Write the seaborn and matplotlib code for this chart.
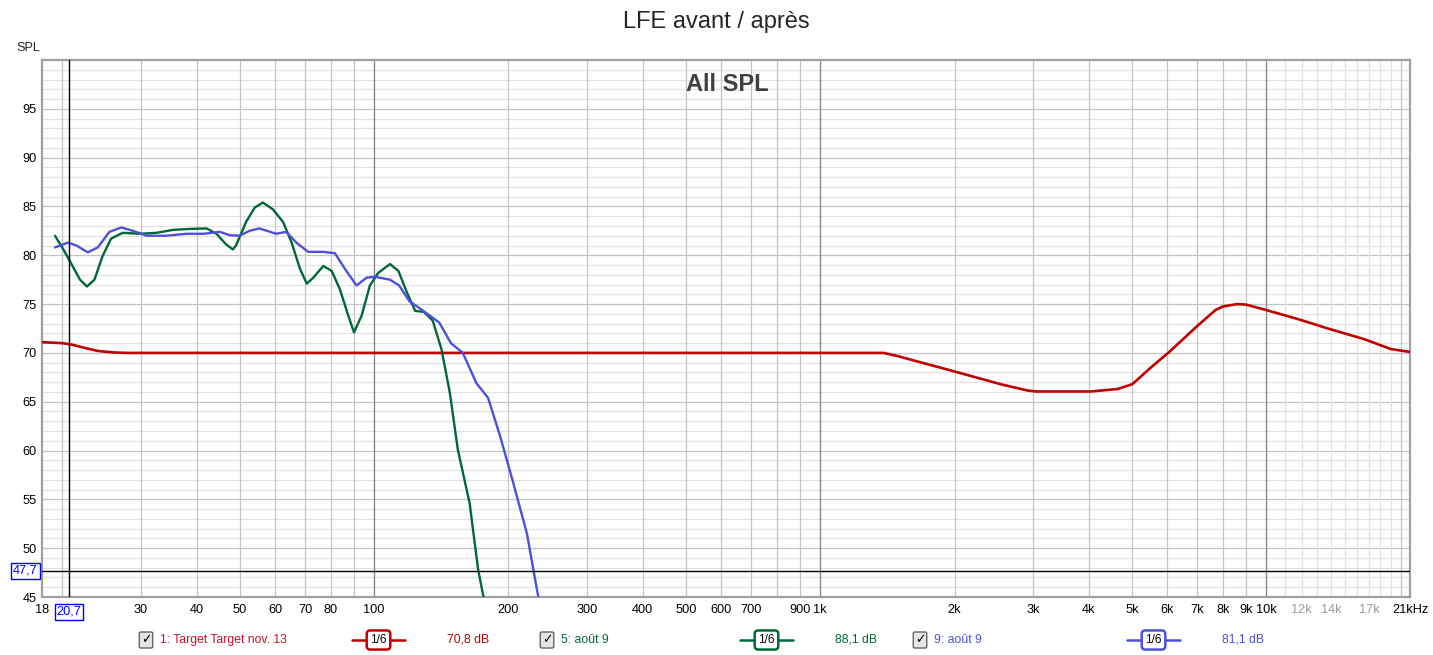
import matplotlib
matplotlib.use("Agg")
import matplotlib.pyplot as plt
import seaborn as sns
from matplotlib.lines import Line2D

# ---------------------------
# data (Hz, dB SPL)
# ---------------------------
target_freq = [18, 20, 21, 22.5, 24, 26, 28, 100, 1000, 1167, 1386, 1484, 2000, 2535, 2915, 3040,
               4040, 4640, 5010, 5510, 6060, 7000, 7700, 7990, 8590, 9000, 9980, 11800, 13980,
               16600, 19000, 21000]
target_spl = [71.1, 71.0, 70.85, 70.5, 70.2, 70.05, 70.0, 70.0, 70.0, 70.0, 70.0, 69.7, 68.1, 66.8,
              66.15, 66.05, 66.05, 66.3, 66.8, 68.5, 70.1, 72.75, 74.4, 74.75, 75.0, 74.95, 74.4,
              73.45, 72.4, 71.4, 70.4, 70.1]

aout_green_freq = [19.25, 20.1, 20.96, 21.9, 22.7, 23.6, 24.6, 25.7, 27.3, 29.8, 32.5, 35.4, 38.6,
                   42.1, 44.3, 46.6, 48.2, 49.0, 51.6, 54.0, 56.3, 59.3, 62.5, 65.3, 68.2, 70.6,
                   73.0, 76.9, 80.3, 83.8, 87.5, 90.1, 93.7, 97.8, 102.1, 108.5, 113.3, 118.4,
                   123.6, 129.3, 135.3, 141.5, 147.8, 154, 163.7, 171, 176, 178]
aout_green_spl = [82.0, 80.6, 79.1, 77.5, 76.8, 77.5, 79.9, 81.7, 82.3, 82.2, 82.3, 82.6, 82.7,
                  82.75, 82.2, 81.1, 80.6, 81.0, 83.4, 84.9, 85.4, 84.7, 83.4, 81.3, 78.6, 77.1,
                  77.7, 78.9, 78.4, 76.5, 73.8, 72.1, 73.8, 76.9, 78.2, 79.1, 78.4, 76.2,
                  74.3, 74.2, 73.3, 70.4, 65.9, 60.1, 54.6, 47.8, 44.9, 43.5]

aout_blue_freq = [19.25, 20.6, 21.5, 22.8, 24.0, 25.5, 27.1, 28.8, 30.9, 34.2, 37.9, 41.4, 45.1,
                  47.4, 49.9, 52.5, 55.3, 60.3, 63.5, 66.9, 71.1, 76.9, 81.7, 86.0, 91.3, 96.1,
                  100.3, 108.5, 113.8, 119.9, 126.2, 133, 140, 148.6, 158, 169.5, 180, 191.5,
                  205, 220, 233.5, 236]
aout_blue_spl = [80.8, 81.3, 81.0, 80.3, 80.8, 82.4, 82.85, 82.5, 82.0, 82.0, 82.2, 82.2, 82.4,
                 82.06, 82.0, 82.5, 82.75, 82.2, 82.4, 81.3, 80.35, 80.35, 80.2, 78.6, 76.9, 77.7,
                 77.8, 77.5, 76.9, 75.3, 74.6, 73.85, 73.1, 71.0, 70.0, 66.9, 65.4, 61.5,
                 56.7, 51.5, 44.9, 43.5]

x_tick_pos = [18, 30, 40, 50, 60, 70, 80, 100, 200, 300, 400, 500, 600, 700, 900, 1000,
              2000, 3000, 4000, 5000, 6000, 7000, 8000, 9000, 10000, 12000, 14000, 17000, 21000]
x_tick_lab = ["18", "30", "40", "50", "60", "70", "80", "100", "200", "300", "400", "500", "600",
              "700", "900", "1k", "2k", "3k", "4k", "5k", "6k", "7k", "8k", "9k", "10k", "12k",
              "14k", "17k", "21kHz"]
y_ticks = [45, 50, 55, 60, 65, 70, 75, 80, 85, 90, 95]

cursor_freq = 20.7
cursor_spl = 47.7

legend_names = ["1: Target Target nov. 13", "5: août 9", "9: août 9"]
legend_db = ["70,8 dB", "88,1 dB", "81,1 dB"]

RED = "#c00000"
GREEN = "#006837"
BLUE = "#4f4fdc"

sns.set_style("white")
plt.rcParams['font.family'] = ['Liberation Sans', 'DejaVu Sans']

W, H = 1433, 655
fig = plt.figure(figsize=(W / 100, H / 100), dpi=100)
ax = fig.add_axes([42 / W, 1 - 597 / H, 1368 / W, 537 / H])

# ---------------------------
# grid
# ---------------------------
for db in range(46, 100):
    ax.axhline(db, color="#c4c4c4" if db % 5 == 0 else "#e2e2e2", lw=0.9, zorder=0)
for dec in [10, 100, 1000, 10000]:
    for k in range(1, 10):
        f = k * dec
        if f < 18 or f > 21000:
            continue
        if k == 1 and dec > 10:
            ax.axvline(f, color="#8a8a8a", lw=1.0, zorder=0)
        else:
            ax.axvline(f, color="#c4c4c4", lw=0.9, zorder=0)
for f in range(11000, 20000, 1000):
    ax.axvline(f, color="#e2e2e2", lw=0.9, zorder=0)

# ---------------------------
# curves
# ---------------------------
style = dict(solid_joinstyle="round", solid_capstyle="round")
sns.lineplot(x=target_freq, y=target_spl, color=RED, lw=1.9, ax=ax, zorder=3, **style)
sns.lineplot(x=aout_green_freq, y=aout_green_spl, color=GREEN, lw=1.7, ax=ax, zorder=4, **style)
sns.lineplot(x=aout_blue_freq, y=aout_blue_spl, color=BLUE, lw=1.7, ax=ax, zorder=5, **style)

# cursor
ax.axvline(cursor_freq, color="black", lw=1.0, zorder=6)
ax.axhline(cursor_spl, color="black", lw=1.0, zorder=6)

ax.set_xscale("log")
ax.set_xlim(18, 21000)
ax.set_ylim(45, 100)

ax.set_xticks(x_tick_pos)
ax.set_xticklabels(x_tick_lab)
ax.xaxis.set_minor_locator(matplotlib.ticker.NullLocator())
ax.set_yticks(y_ticks)
ax.tick_params(axis="both", length=0, labelsize=9.2, colors="black")
ax.tick_params(axis="x", pad=5)
ax.tick_params(axis="y", pad=4)
for lab in ax.get_xticklabels()[-4:-1]:
    lab.set_color("#9a9a9a")
ax.set_xlabel("")
ax.set_ylabel("")

for side in ["top", "left", "bottom", "right"]:
    ax.spines[side].set_color("#a0a0a0")
    ax.spines[side].set_linewidth(1.6)

# cursor labels
box = dict(boxstyle="square,pad=0.15", fc="white", ec="#0000ff", lw=1.0)
ax.text(cursor_freq, -0.016, "20,7", transform=ax.get_xaxis_transform(), ha="center", va="top",
        color="#0000ff", fontsize=9.2, bbox=box, zorder=10)
ax.text(-0.003, cursor_spl, "47,7", transform=ax.get_yaxis_transform(), ha="right", va="center",
        color="#0000ff", fontsize=9.2, bbox=box, zorder=10)

# titles
fig.text(0.5, 1 - 22 / H, "LFE avant / après", ha="center", va="center", fontsize=17)
ax.text(0.501, 0.975, "All SPL", transform=ax.transAxes, ha="center", va="top",
        fontsize=17, fontweight="bold", color="#404040")
fig.text(28 / W, 1 - 48 / H, "SPL", ha="center", va="center", fontsize=9.2)

# ---------------------------
# legend row
# ---------------------------
ly = 1 - 640 / H
rows = [
    (146, 160, 352, 405, 447, RED, "#c8102e", RED),
    (547, 561, 740, 793, 835, GREEN, GREEN, GREEN),
    (920, 934, 1127, 1180, 1222, BLUE, BLUE, BLUE),
]
for (cb_x, txt_x, l0, l1, db_x, lc, tc, dc), name, dbv in zip(rows, legend_names, legend_db):
    fig.text(cb_x / W, ly, "✓", ha="center", va="center", fontsize=9, color="black",
             family="DejaVu Sans", fontweight="bold",
             bbox=dict(boxstyle="round,pad=0.12", fc="#e4e4e4", ec="#666666", lw=1.0))
    fig.text(txt_x / W, ly, name, ha="left", va="center", fontsize=8.8, color=tc)
    fig.add_artist(Line2D([l0 / W, l1 / W], [ly, ly], color=lc, lw=1.8,
                          transform=fig.transFigure))
    fig.text((l0 + l1) / 2 / W, ly, "1/6", ha="center", va="center", fontsize=8.5, color="black",
             bbox=dict(boxstyle="round,pad=0.3", fc="white", ec=lc, lw=1.8))
    fig.text(db_x / W, ly, dbv, ha="left", va="center", fontsize=8.8, color=dc)

fig.savefig("out.png", dpi=100)
